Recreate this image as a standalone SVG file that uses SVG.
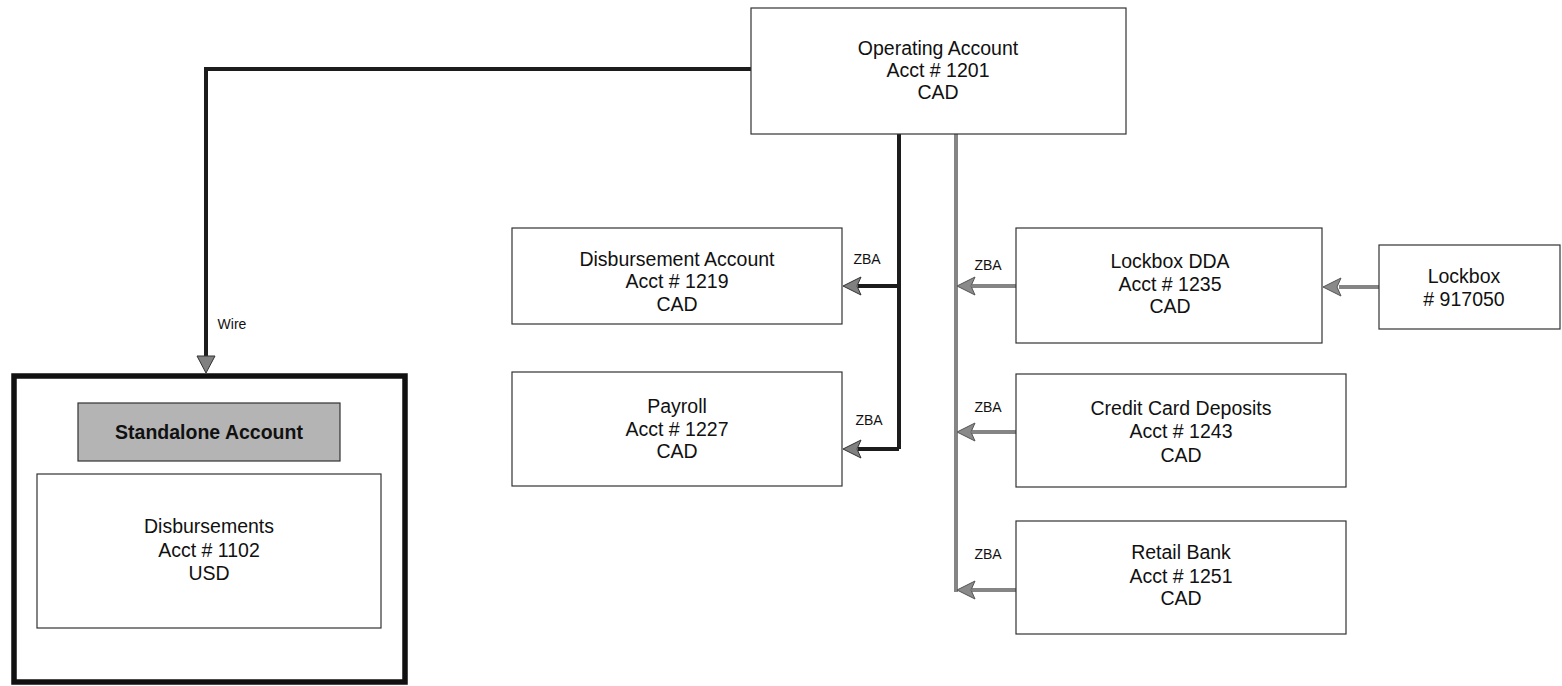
<svg xmlns="http://www.w3.org/2000/svg" width="1562" height="686" viewBox="0 0 1562 686">
<defs>
<style>
.box{fill:#fff;stroke:#333;stroke-width:1.2}
.t{font-family:"Liberation Sans",Arial,sans-serif;font-size:19.5px;fill:#111;text-anchor:middle}
.lbl{font-family:"Liberation Sans",Arial,sans-serif;font-size:14px;fill:#111;text-anchor:middle}
.dk{fill:none;stroke:#1c1c1c;stroke-width:4}
.gr{fill:none;stroke:#858585;stroke-width:4}
.hd{fill:#808080;stroke:#333;stroke-width:1}
.hg{fill:#8a8a8a;stroke:#555;stroke-width:1}
</style>
</defs>
<rect width="1562" height="686" fill="#fff"/>

<g id="connectors">
<path class="dk" d="M751,69 H206 V356" stroke-width="3.5"/>
<path class="hd" d="M197,356 L215,356 L206,373 Z"/>
<text class="lbl" x="232" y="329">Wire</text>

<path class="dk" d="M899,134 V449"/>
<line class="dk" x1="899" y1="286" x2="858" y2="286"/>
<path class="hd" d="M843,286 L861,277 L857,286 L861,295 Z"/>
<line class="dk" x1="899" y1="449" x2="858" y2="449"/>
<path class="hd" d="M843,449 L861,440 L857,449 L861,458 Z"/>
<text class="lbl" x="867" y="264">ZBA</text>
<text class="lbl" x="869" y="425">ZBA</text>

<path class="gr" d="M956,134 V592"/>
<line class="gr" x1="1016" y1="286" x2="972" y2="286"/>
<path class="hg" d="M957,286 L975,277 L971,286 L975,295 Z"/>
<line class="gr" x1="1016" y1="432" x2="972" y2="432"/>
<path class="hg" d="M957,432 L975,423 L971,432 L975,441 Z"/>
<line class="gr" x1="1016" y1="590" x2="972" y2="590"/>
<path class="hg" d="M957,590 L975,581 L971,590 L975,599 Z"/>
<text class="lbl" x="988" y="270">ZBA</text>
<text class="lbl" x="988" y="412">ZBA</text>
<text class="lbl" x="988" y="559">ZBA</text>

<line class="gr" x1="1379" y1="287" x2="1339" y2="287"/>
<path class="hg" d="M1323,287 L1341,278 L1337,287 L1341,296 Z"/>
</g>

<g id="operating">
<rect class="box" x="751" y="8" width="375" height="126"/>
<text class="t" x="938" y="55">Operating Account</text>
<text class="t" x="938" y="77">Acct # 1201</text>
<text class="t" x="938" y="99">CAD</text>
</g>

<g id="disbursement">
<rect class="box" x="512" y="228" width="330" height="96"/>
<text class="t" x="677" y="266">Disbursement Account</text>
<text class="t" x="677" y="288">Acct # 1219</text>
<text class="t" x="677" y="311">CAD</text>
</g>

<g id="payroll">
<rect class="box" x="512" y="372" width="330" height="114"/>
<text class="t" x="677" y="413">Payroll</text>
<text class="t" x="677" y="436">Acct # 1227</text>
<text class="t" x="677" y="458">CAD</text>
</g>

<g id="lockboxdda">
<rect class="box" x="1016" y="228" width="306" height="115"/>
<text class="t" x="1170" y="268">Lockbox DDA</text>
<text class="t" x="1170" y="291">Acct # 1235</text>
<text class="t" x="1170" y="313">CAD</text>
</g>

<g id="lockbox">
<rect class="box" x="1379" y="245" width="181" height="84"/>
<text class="t" x="1464" y="283">Lockbox</text>
<text class="t" x="1464" y="306"># 917050</text>
</g>

<g id="creditcard">
<rect class="box" x="1016" y="374" width="330" height="113"/>
<text class="t" x="1181" y="415">Credit Card Deposits</text>
<text class="t" x="1181" y="438">Acct # 1243</text>
<text class="t" x="1181" y="462">CAD</text>
</g>

<g id="retail">
<rect class="box" x="1016" y="521" width="330" height="113"/>
<text class="t" x="1181" y="559">Retail Bank</text>
<text class="t" x="1181" y="583">Acct # 1251</text>
<text class="t" x="1181" y="605">CAD</text>
</g>

<g id="standalone">
<rect x="14" y="376" width="391" height="306" fill="#fff" stroke="#111" stroke-width="5.5"/>
<rect x="78" y="403" width="262" height="58" fill="#b4b4b4" stroke="#333" stroke-width="1.2"/>
<text x="209" y="439" font-family="'Liberation Sans',Arial,sans-serif" font-size="19.5" font-weight="bold" fill="#111" text-anchor="middle">Standalone Account</text>
<rect class="box" x="37" y="474" width="344" height="154"/>
<text class="t" x="209" y="533">Disbursements</text>
<text class="t" x="209" y="557">Acct # 1102</text>
<text class="t" x="209" y="580">USD</text>
</g>
</svg>
